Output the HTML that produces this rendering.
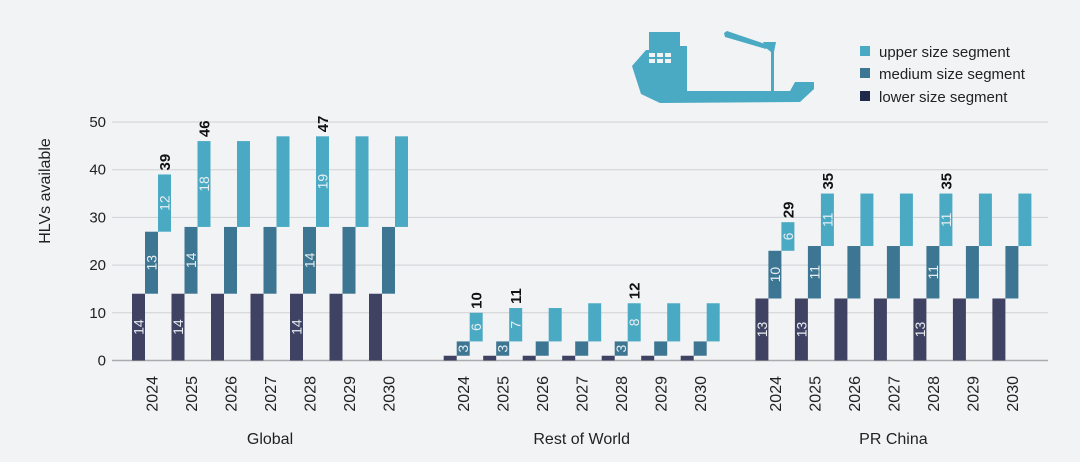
<!DOCTYPE html>
<html><head><meta charset="utf-8">
<style>
html,body{margin:0;padding:0;background:#f2f3f5;}
svg{display:block;font-family:"Liberation Sans",sans-serif;}
</style></head>
<body>
<svg id="chart" width="1080" height="462" viewBox="0 0 1080 462">
<rect x="0" y="0" width="1080" height="462" fill="#f2f3f5"/>
<g id="ship" fill="#4aaac4">
  <path d="M649,32 L680,32 L680,46 L687,46 L687,91 L771,91 L771,52 L766,48 L763,42 L776,42 L774,52 L774,91 L790,91 L795,82 L814,82 L814,89 L800,102 L660,103 L641,94 L632,66 L646,50 L649,50 Z"/>
  <path d="M724,33 L727,31 L768,45 L766,49 L725,37 Z"/>
  <g fill="#f2f3f5"><rect x="649" y="53" width="6" height="4"/><rect x="657" y="53" width="6" height="4"/><rect x="665" y="53" width="6" height="4"/><rect x="649" y="59" width="6" height="4"/><rect x="657" y="59" width="6" height="4"/><rect x="665" y="59" width="6" height="4"/></g>
</g>
<g font-size="15" fill="#222">
  <rect x="860" y="46" width="10" height="10" fill="#4aaac4"/>
  <text x="879" y="57">upper size segment</text>
  <rect x="860" y="68" width="10" height="10" fill="#3d7692"/>
  <text x="879" y="79">medium size segment</text>
  <rect x="860" y="91" width="10" height="10" fill="#1f2a4a"/>
  <text x="879" y="102">lower size segment</text>
</g>
<text x="50" y="191" transform="rotate(-90 50 191)" text-anchor="middle" font-size="16" fill="#222">HLVs available</text>
<g id="grid"></g>
<g id="bars"></g>
<g id="labels"></g>
</svg>
<script>
const groups = ["Global","Rest of World","PR China"];
const years = ["2024","2025","2026","2027","2028","2029","2030"];
const lowerVals = [[14,14,14,14,14,14,14],[1,1,1,1,1,1,1],[13,13,13,13,13,13,13]];
const mediumVals = [[13,14,14,14,14,14,14],[3,3,3,3,3,3,3],[10,11,11,11,11,11,11]];
const upperVals = [[12,18,18,19,19,19,19],[6,7,7,8,8,8,8],[6,11,11,11,11,11,11]];
const labeledYears = ["2024","2025","2028"];
const yTicks = [0,10,20,30,40,50];

const NS="http://www.w3.org/2000/svg";
const y0=360.5, pxPerUnit=4.77;
const yScale=v=>y0-v*pxPerUnit;
const groupX=g=>132+g*311.7;
const barW=13, pitch=39.5;
const xScale=(g,i)=>groupX(g)+i*pitch;
function mk(tag,attrs,parent,txt){const e=document.createElementNS(NS,tag);for(const k in attrs)e.setAttribute(k,attrs[k]);if(txt!==undefined)e.textContent=txt;parent.appendChild(e);return e;}
const grid=document.getElementById('grid'), bars=document.getElementById('bars'), labels=document.getElementById('labels');
yTicks.forEach(t=>{
  const y=yScale(t);
  const l=mk('line',{x1:112,x2:1048,y1:y,y2:y,stroke:t===0?'#a9abae':'#cfd1d4','stroke-width':t===0?1.5:1},grid);
  
  
  const tx=mk('text',{x:106,y:y+5,'text-anchor':'end','font-size':15,fill:'#222'},grid,String(t));
  
  
});
const colors=['#3f4262','#3d7692','#4aaac4'];
const segNames=['lower','medium','upper'];
groups.forEach((gn,g)=>{
  years.forEach((yr,i)=>{
    const vals=[lowerVals[g][i],mediumVals[g][i],upperVals[g][i]];
    let base=0;
    const x0=xScale(g,i);
    vals.forEach((v,s)=>{
      const x=x0+s*barW;
      const r=mk('rect',{x:x,y:yScale(base+v),width:barW,height:v*pxPerUnit,fill:colors[s]},bars);
      
      
      if(labeledYears.includes(yr) && v>=3){
        const cx=x+barW/2+5, cy=yScale(base+v/2);
        const t=mk('text',{x:cx,y:cy,'text-anchor':'middle','font-size':14,fill:'#e8eef2',transform:'rotate(-90 '+cx+' '+cy+')'},labels,String(v));
        
        
      }
      base+=v;
    });
    if(labeledYears.includes(yr)){
      const cx=x0+2*barW+barW/2+5.5, cy=yScale(base)-4;
      const t=mk('text',{x:cx,y:cy,'font-size':15,'font-weight':'bold',fill:'#111',transform:'rotate(-90 '+cx+' '+cy+')'},labels,String(base));
      
      
    }
    const lx=x0+barW*1.5+6, ly=376;
    const t=mk('text',{x:lx,y:ly,'text-anchor':'end','font-size':16,fill:'#222',transform:'rotate(-90 '+lx+' '+ly+')'},labels,yr);
    
    
  });
  const cx=xScale(g,3)+barW*1.5;
  const t=mk('text',{x:cx,y:444,'text-anchor':'middle','font-size':16,fill:'#222'},labels,gn);
  
  
});
</script>
</body></html>
